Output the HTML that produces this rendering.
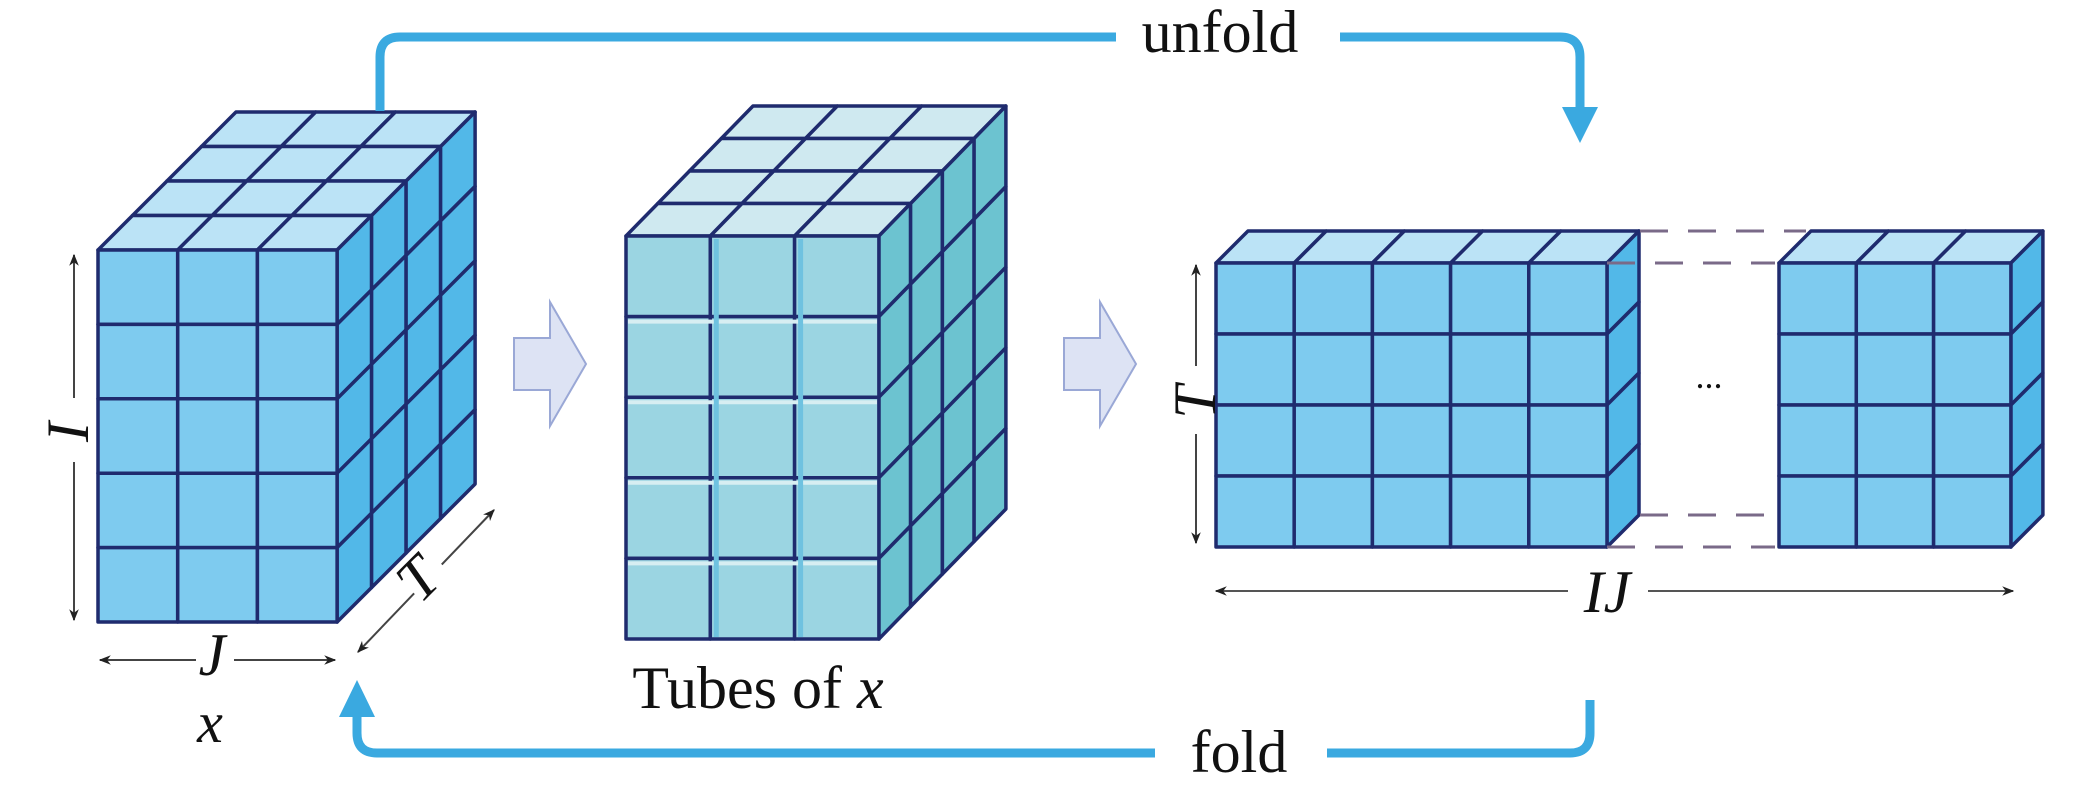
<!DOCTYPE html>
<html><head><meta charset="utf-8"><style>
html,body{margin:0;padding:0;background:#fff;width:2079px;height:792px;overflow:hidden}
svg{display:block}
text{font-family:"Liberation Serif",serif;fill:#111}
</style></head><body>
<svg id="s" width="2079" height="792" viewBox="0 0 2079 792" xmlns="http://www.w3.org/2000/svg">
<defs>
<marker id="ah" viewBox="0 0 10 10" refX="9" refY="5" markerWidth="6" markerHeight="6" orient="auto-start-reverse"><path d="M0,1 L10,5 L0,9 L3,5z" fill="#222"/></marker>
</defs>
<g id="cubes"></g>
<path d="M380,111 V57 Q380,37 400,37 H1116 M1340,37 H1560 Q1580,37 1580,57 V112" fill="none" stroke="#3aa9e0" stroke-width="9"/>
<polygon points="1562,107 1598,107 1580,143" fill="#3aa9e0"/>
<text x="1220" y="52" font-size="60" text-anchor="middle">unfold</text>
<path d="M1590,700 V733 Q1590,753 1570,753 H1327 M1155,753 H377 Q357,753 357,733 V712" fill="none" stroke="#3aa9e0" stroke-width="9"/>
<polygon points="339,717 375,717 357,680" fill="#3aa9e0"/>
<text x="1239" y="772" font-size="60" text-anchor="middle">fold</text>
<polygon points="514,338 550,338 550,302 586,364 550,426 550,390 514,390" fill="#dde3f4" stroke="#9aa8d6" stroke-width="2"/>
<polygon points="1064,338 1100,338 1100,302 1136,364 1100,426 1100,390 1064,390" fill="#dde3f4" stroke="#9aa8d6" stroke-width="2"/>
<line x1="74" y1="255" x2="74" y2="620" stroke="#444" stroke-width="2" marker-start="url(#ah)" marker-end="url(#ah)"/>
<rect x="56" y="398" width="36" height="64" fill="#fff"/>
<text transform="translate(88,432) rotate(-90)" font-size="60" font-style="italic" text-anchor="middle">I</text>
<line x1="100" y1="660" x2="335" y2="660" stroke="#444" stroke-width="2" marker-start="url(#ah)" marker-end="url(#ah)"/>
<rect x="196" y="640" width="38" height="40" fill="#fff"/>
<text x="212" y="675" font-size="60" font-style="italic" text-anchor="middle">J</text>
<text x="210" y="742" font-size="58" font-style="italic" text-anchor="middle">x</text>
<line x1="358" y1="652" x2="494" y2="510" stroke="#444" stroke-width="2" marker-start="url(#ah)" marker-end="url(#ah)"/>
<rect x="402" y="553" width="40" height="40" fill="#fff" transform="rotate(-45 422 573)"/>
<text transform="translate(432,593) rotate(-45)" font-size="60" font-style="italic" text-anchor="middle">T</text>
<text x="758" y="708" font-size="60" text-anchor="middle">Tubes of <tspan font-style="italic">x</tspan></text>
<line x1="1196" y1="265" x2="1196" y2="543" stroke="#444" stroke-width="2" marker-start="url(#ah)" marker-end="url(#ah)"/>
<rect x="1178" y="366" width="36" height="68" fill="#fff"/>
<text transform="translate(1215,402) rotate(-90)" font-size="60" font-style="italic" text-anchor="middle">T</text>
<line x1="1216" y1="591" x2="2013" y2="591" stroke="#555" stroke-width="2" marker-start="url(#ah)" marker-end="url(#ah)"/>
<rect x="1568" y="565" width="80" height="50" fill="#fff"/>
<text x="1607" y="612" font-size="60" font-style="italic" text-anchor="middle">IJ</text>
<text x="1709" y="388" font-size="36" text-anchor="middle">...</text>
<g stroke="#7a6a88" stroke-width="3" stroke-dasharray="28,20">
<line x1="1640" y1="231" x2="1806" y2="231"/>
<line x1="1607" y1="263" x2="1775" y2="263"/>
<line x1="1640" y1="515" x2="1775" y2="515"/>
<line x1="1607" y1="547" x2="1775" y2="547"/>
</g>
</svg>
<script>
var g=document.getElementById('cubes'),NS='http://www.w3.org/2000/svg';
function poly(p,f,st,sw){var e=document.createElementNS(NS,'polygon');e.setAttribute('points',p.map(function(a){return a[0].toFixed(1)+','+a[1].toFixed(1)}).join(' '));e.setAttribute('fill',f);e.setAttribute('stroke',st);e.setAttribute('stroke-width',sw);e.setAttribute('stroke-linejoin','round');g.appendChild(e);}
function ln(x1,y1,x2,y2,c,w){var e=document.createElementNS(NS,'line');e.setAttribute('x1',x1);e.setAttribute('x2',x2);e.setAttribute('y1',y1);e.setAttribute('y2',y2);e.setAttribute('stroke',c);e.setAttribute('stroke-width',w);g.appendChild(e);}
function cube(x0,y0,w,h,nc,nr,nd,dx,dy,cf,cs,ct,st,sw){
 var i,j,k;
 for(k=nd-1;k>=0;k--)for(i=0;i<nc;i++){var x=x0+i*w+k*dx,y=y0-k*dy;poly([[x,y],[x+w,y],[x+w+dx,y-dy],[x+dx,y-dy]],ct,st,sw);}
 var xr=x0+nc*w;
 for(k=0;k<nd;k++)for(j=0;j<nr;j++){var x=xr+k*dx,y=y0+j*h-k*dy;poly([[x,y],[x+dx,y-dy],[x+dx,y+h-dy],[x,y+h]],cs,st,sw);}
 for(i=0;i<nc;i++)for(j=0;j<nr;j++){poly([[x0+i*w,y0+j*h],[x0+(i+1)*w,y0+j*h],[x0+(i+1)*w,y0+(j+1)*h],[x0+i*w,y0+(j+1)*h]],cf,st,sw);}
}
cube(98,250,79.7,74.4,3,5,4,34.5,34.5,'#7ecbef','#52b8e8','#bbe3f6','#1f2b6e',3.5);
cube(626,236,84.3,80.6,3,5,4,31.75,32.5,'#9bd5e2','#6cc3d0','#cfe9f0','#1f2b6e',3.5);
for(var j=1;j<5;j++){var y=236+j*80.6;ln(628,y+5,877,y+5,'#d7eef2',4);}
for(var i=1;i<3;i++){var x=626+i*84.3;ln(x+6,239,x+6,637,'#6fc2e0',5);}
cube(1216,263,78.2,71,5,4,1,32,32,'#7ecbef','#52b8e8','#bbe3f6','#1f2b6e',3.5);
cube(1779,263,77.3,71,3,4,1,32,32,'#7ecbef','#52b8e8','#bbe3f6','#1f2b6e',3.5);
</script>
</body></html>
